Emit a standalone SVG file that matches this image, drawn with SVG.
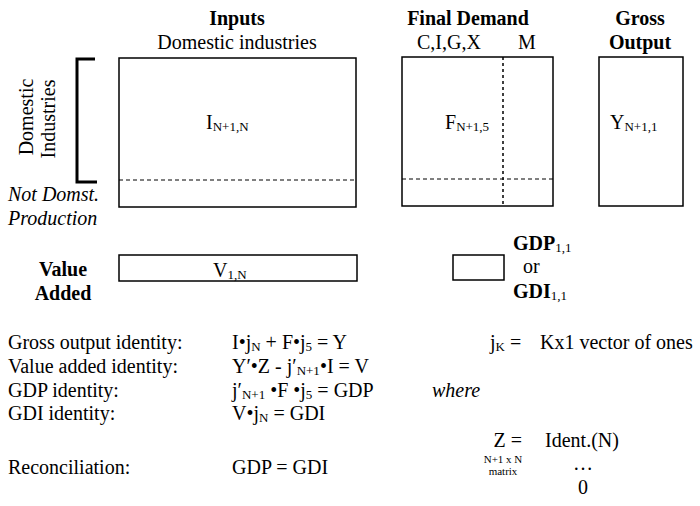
<svg xmlns="http://www.w3.org/2000/svg" width="700" height="506" viewBox="0 0 700 506">
<style>
text{font-family:"Liberation Serif","Times New Roman",serif;font-size:20px;fill:#000}
.b{font-weight:bold}
.i{font-style:italic}
.m{text-anchor:middle}
.e{text-anchor:end}
.sub{font-size:13px}
.sm{font-size:11px}
.box{fill:none;stroke:#000;stroke-width:1.5}
.dash{fill:none;stroke:#000;stroke-width:1;stroke-dasharray:4 3}
.vdash{fill:none;stroke:#000;stroke-width:1.5;stroke-dasharray:3 3}
</style>
<rect width="700" height="506" fill="#fff"/>
<g id="headers">
<text class="b m" x="237" y="25">Inputs</text>
<text class="m" x="237" y="49">Domestic industries</text>
<text class="b m" x="468" y="25">Final Demand</text>
<text x="417" y="49">C,I,G,X</text>
<text class="m" x="527" y="49">M</text>
<text class="b m" x="640" y="25">Gross</text>
<text class="b m" x="640" y="49">Output</text>
</g>
<g id="row-labels">
<path d="M95,59 H77 V182 H97" fill="none" stroke="#000" stroke-width="3"/>
<text class="m" transform="translate(33,117) rotate(-90)">Domestic</text>
<text class="m" transform="translate(55,119) rotate(-90)">Industries</text>
<text class="i" x="8" y="201">Not Domst.</text>
<text class="i" x="8" y="225">Production</text>
<text class="b m" x="63" y="276">Value</text>
<text class="b m" x="63" y="300">Added</text>
</g>
<g id="inputs-matrix">
<rect class="box" x="119" y="58" width="237" height="149"/>
<line class="dash" x1="119" y1="180" x2="356" y2="180"/>
<text x="206" y="129">I<tspan class="sub" dy="2">N+1,N</tspan></text>
</g>
<g id="final-demand-matrix">
<rect class="box" x="402" y="57" width="151" height="149"/>
<line class="vdash" x1="503" y1="57" x2="503" y2="206"/>
<line class="dash" x1="402" y1="179" x2="553" y2="179"/>
<text x="445" y="129">F<tspan class="sub" dy="2">N+1,5</tspan></text>
</g>
<g id="gross-output-vector">
<rect class="box" x="599" y="57" width="84" height="149"/>
<text x="610" y="129">Y<tspan class="sub" dy="2">N+1,1</tspan></text>
</g>
<g id="value-added-vector">
<rect class="box" x="119" y="255" width="238" height="26"/>
<text x="213" y="277">V<tspan class="sub" dy="2">1,N</tspan></text>
</g>
<g id="gdp-scalar">
<rect class="box" x="453" y="255" width="51" height="25"/>
<text class="b" x="513" y="250">GDP<tspan class="sub" font-weight="normal" dy="2">1,1</tspan></text>
<text x="523" y="273">or</text>
<text class="b" x="513" y="298">GDI<tspan class="sub" font-weight="normal" dy="2">1,1</tspan></text>
</g>
<g id="identities">
<text x="8" y="349">Gross output identity:</text>
<text x="8" y="373">Value added identity:</text>
<text x="8" y="397">GDP identity:</text>
<text x="8" y="420">GDI identity:</text>
<text x="8" y="474">Reconciliation:</text>
<text x="232" y="349">I•j<tspan class="sub" dy="2">N</tspan><tspan dy="-2"> + F•j</tspan><tspan class="sub" dy="2">5</tspan><tspan dy="-2"> = Y</tspan></text>
<text x="232" y="373">Y′•Z - j′<tspan class="sub" dy="2">N+1</tspan><tspan dy="-2">•I = V</tspan></text>
<text x="232" y="397">j′<tspan class="sub" dy="2">N+1</tspan><tspan dy="-2"> •F •j</tspan><tspan class="sub" dy="2">5</tspan><tspan dy="-2"> = GDP</tspan></text>
<text x="232" y="420">V•j<tspan class="sub" dy="2">N</tspan><tspan dy="-2"> = GDI</tspan></text>
<text x="232" y="474">GDP = GDI</text>
<text class="i" x="432" y="397">where</text>
</g>
<g id="definitions">
<text x="490" y="349">j<tspan class="sub" dy="2">K</tspan><tspan dy="-2"> =</tspan></text>
<text x="540" y="349">Kx1 vector of ones</text>
<text class="e" x="522" y="447">Z =</text>
<text class="sm m" x="503" y="463">N+1 x N</text>
<text class="sm m" x="503" y="475">matrix</text>
<text class="m" x="582" y="447">Ident.(N)</text>
<text class="m" x="583" y="470">…</text>
<text class="m" x="583" y="494">0</text>
</g>
</svg>
